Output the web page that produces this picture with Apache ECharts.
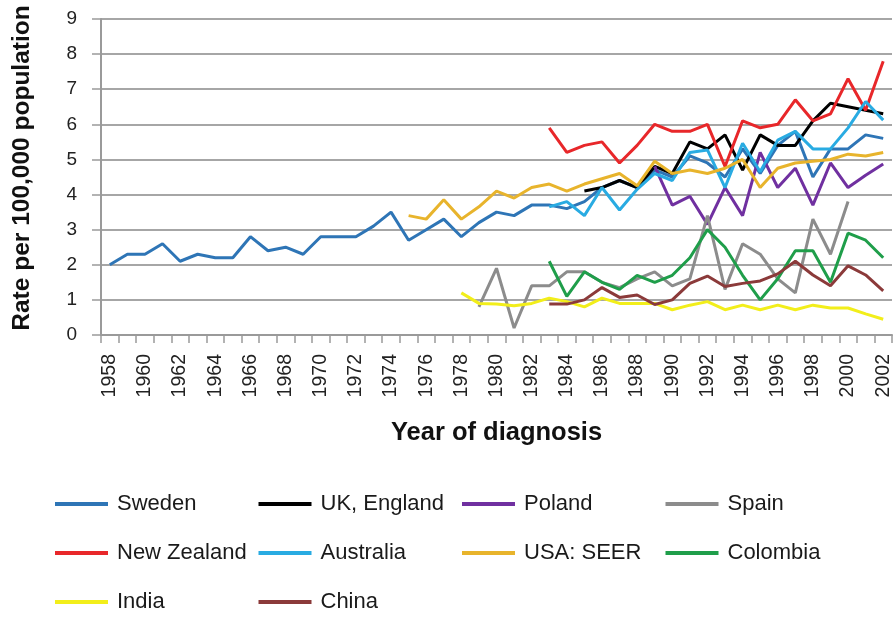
<!DOCTYPE html>
<html>
<head>
<meta charset="utf-8">
<script src="https://cdn.jsdelivr.net/npm/echarts@6/dist/echarts.min.js"></script>
<style>
html,body{margin:0;padding:0;background:#fff;}
#chart{width:896px;height:619px;}
</style>
</head>
<body>
<div id="chart"></div>
<script>
// ---- data ----
var years = ['1958','1959','1960','1961','1962','1963','1964','1965','1966','1967','1968','1969','1970','1971','1972','1973','1974','1975','1976','1977','1978','1979','1980','1981','1982','1983','1984','1985','1986','1987','1988','1989','1990','1991','1992','1993','1994','1995','1996','1997','1998','1999','2000','2001','2002'];
var yTicks = [0,1,2,3,4,5,6,7,8,9];

var sweden = [2.0,2.3,2.3,2.6,2.1,2.3,2.2,2.2,2.8,2.4,2.5,2.3,2.8,2.8,2.8,3.1,3.5,2.7,3.0,3.3,2.8,3.2,3.5,3.4,3.7,3.7,3.6,3.8,4.2,4.4,4.2,4.7,4.5,5.1,4.9,4.5,5.3,4.6,5.4,5.8,4.5,5.3,5.3,5.7,5.6];
var ukStart = 1985;
var uk = [4.1,4.2,4.4,4.2,4.8,4.6,5.5,5.3,5.7,4.7,5.7,5.4,5.4,6.1,6.6,6.5,6.4,6.3];
var polandStart = 1989;
var poland = [4.8,3.7,3.95,3.15,4.2,3.4,5.2,4.2,4.75,3.7,4.9,4.2,4.55,4.87];
var spainStart = 1979;
var spain = [0.8,1.9,0.2,1.4,1.4,1.8,1.8,1.5,1.35,1.6,1.8,1.4,1.6,3.4,1.3,2.6,2.3,1.6,1.2,3.3,2.3,3.8];
var nzStart = 1983;
var newZealand = [5.9,5.2,5.4,5.5,4.9,5.4,6.0,5.8,5.8,6.0,4.8,6.1,5.9,6.0,6.7,6.1,6.3,7.3,6.4,7.8];
var ausStart = 1983;
var australia = [3.65,3.8,3.4,4.2,3.56,4.15,4.6,4.4,5.2,5.27,4.2,5.46,4.65,5.55,5.8,5.3,5.3,5.9,6.65,6.12];
var usaStart = 1975;
var usa = [3.4,3.3,3.85,3.3,3.65,4.1,3.9,4.2,4.3,4.1,4.3,4.45,4.6,4.25,4.95,4.6,4.7,4.6,4.75,5.0,4.2,4.75,4.9,4.95,5.0,5.15,5.1,5.2];
var colStart = 1983;
var colombia = [2.1,1.1,1.8,1.5,1.3,1.7,1.5,1.7,2.2,3.0,2.5,1.7,1.0,1.6,2.4,2.4,1.5,2.9,2.7,2.2];
var indiaStart = 1978;
var india = [1.2,0.9,0.88,0.83,0.9,1.05,0.95,0.8,1.05,0.9,0.9,0.9,0.72,0.85,0.95,0.72,0.85,0.72,0.85,0.72,0.85,0.77,0.77,0.6,0.45];
var chinaStart = 1983;
var china = [0.88,0.88,1.0,1.35,1.07,1.14,0.87,1.0,1.47,1.68,1.38,1.47,1.54,1.74,2.1,1.71,1.4,1.97,1.71,1.26];

var names = ['Sweden','UK, England','Poland','Spain','New Zealand','Australia','USA: SEER','Colombia','India','China'];
var colors = ['#2E75B6','#000000','#7030A0','#8C8C8C','#E8272A','#29ABE2','#E8B42C','#1F9E4A','#F2EE1A','#8B3A3A'];

function place(start, vals){
  var out = years.map(function(){return null;});
  var off = years.indexOf(String(start));
  vals.forEach(function(v,i){ out[off+i] = v; });
  return out;
}
var seriesData = [
  place(1958, sweden), place(ukStart, uk), place(polandStart, poland), place(spainStart, spain),
  place(nzStart, newZealand), place(ausStart, australia), place(usaStart, usa), place(colStart, colombia),
  place(indiaStart, india), place(chinaStart, china)
];

var font = '"Liberation Sans", Arial, sans-serif';
var chart = echarts.init(document.getElementById('chart'), null, {renderer:'canvas'});

var legends = names.map(function(n,i){
  var col = i % 4, row = Math.floor(i / 4);
  return {
    data: [n], left: 55 + col*203.5, top: 493 + row*49,
    icon: 'rect', itemWidth: 53, itemHeight: 4, itemGap: 0,
    textStyle: {fontFamily: font, fontSize: 22, color: '#1a1a1a', padding:[0,0,0,4]},
    padding: 0, selectedMode: false
  };
});

chart.setOption({
  animation: false,
  backgroundColor: '#ffffff',
  color: colors,
  legend: legends,
  grid: {left: 101, top: 19, width: 791, height: 316, containLabel: false},
  xAxis: {
    type: 'category', data: years, boundaryGap: true,
    name: 'Year of diagnosis', nameLocation: 'middle', nameGap: 85,
    nameTextStyle: {fontFamily: font, fontSize: 25.5, fontWeight: 'bold', color: '#111'},
    axisLine: {lineStyle: {color: '#9a9a9a', width: 2}},
    axisTick: {show: true, interval: 0, length: 8, lineStyle: {color: '#9a9a9a', width: 1.5}},
    axisLabel: {interval: 1, rotate: 90, margin: 19, fontFamily: font, fontSize: 19.5, color: '#222'}
  },
  yAxis: {
    type: 'value', min: yTicks[0], max: yTicks[yTicks.length-1], interval: 1,
    name: 'Rate per 100,000 population', nameLocation: 'middle', nameGap: 66, nameRotate: 90,
    nameTextStyle: {fontFamily: font, fontSize: 24.5, fontWeight: 'bold', color: '#111', padding: [0,0,0,18]},
    axisLine: {show: true, lineStyle: {color: '#9a9a9a', width: 2}},
    axisTick: {show: true, length: 9, lineStyle: {color: '#9a9a9a', width: 1.5}},
    axisLabel: {margin: 24, fontFamily: font, fontSize: 19, color: '#222'},
    splitLine: {show: true, lineStyle: {color: '#a6a6a6', width: 2}}
  },
  series: names.map(function(n,i){
    return {
      name: n, type: 'line', data: seriesData[i], showSymbol: false, symbol: 'none',
      connectNulls: false, lineStyle: {width: 3, color: colors[i]}, itemStyle: {color: colors[i]}
    };
  })
});
</script>
</body>
</html>
